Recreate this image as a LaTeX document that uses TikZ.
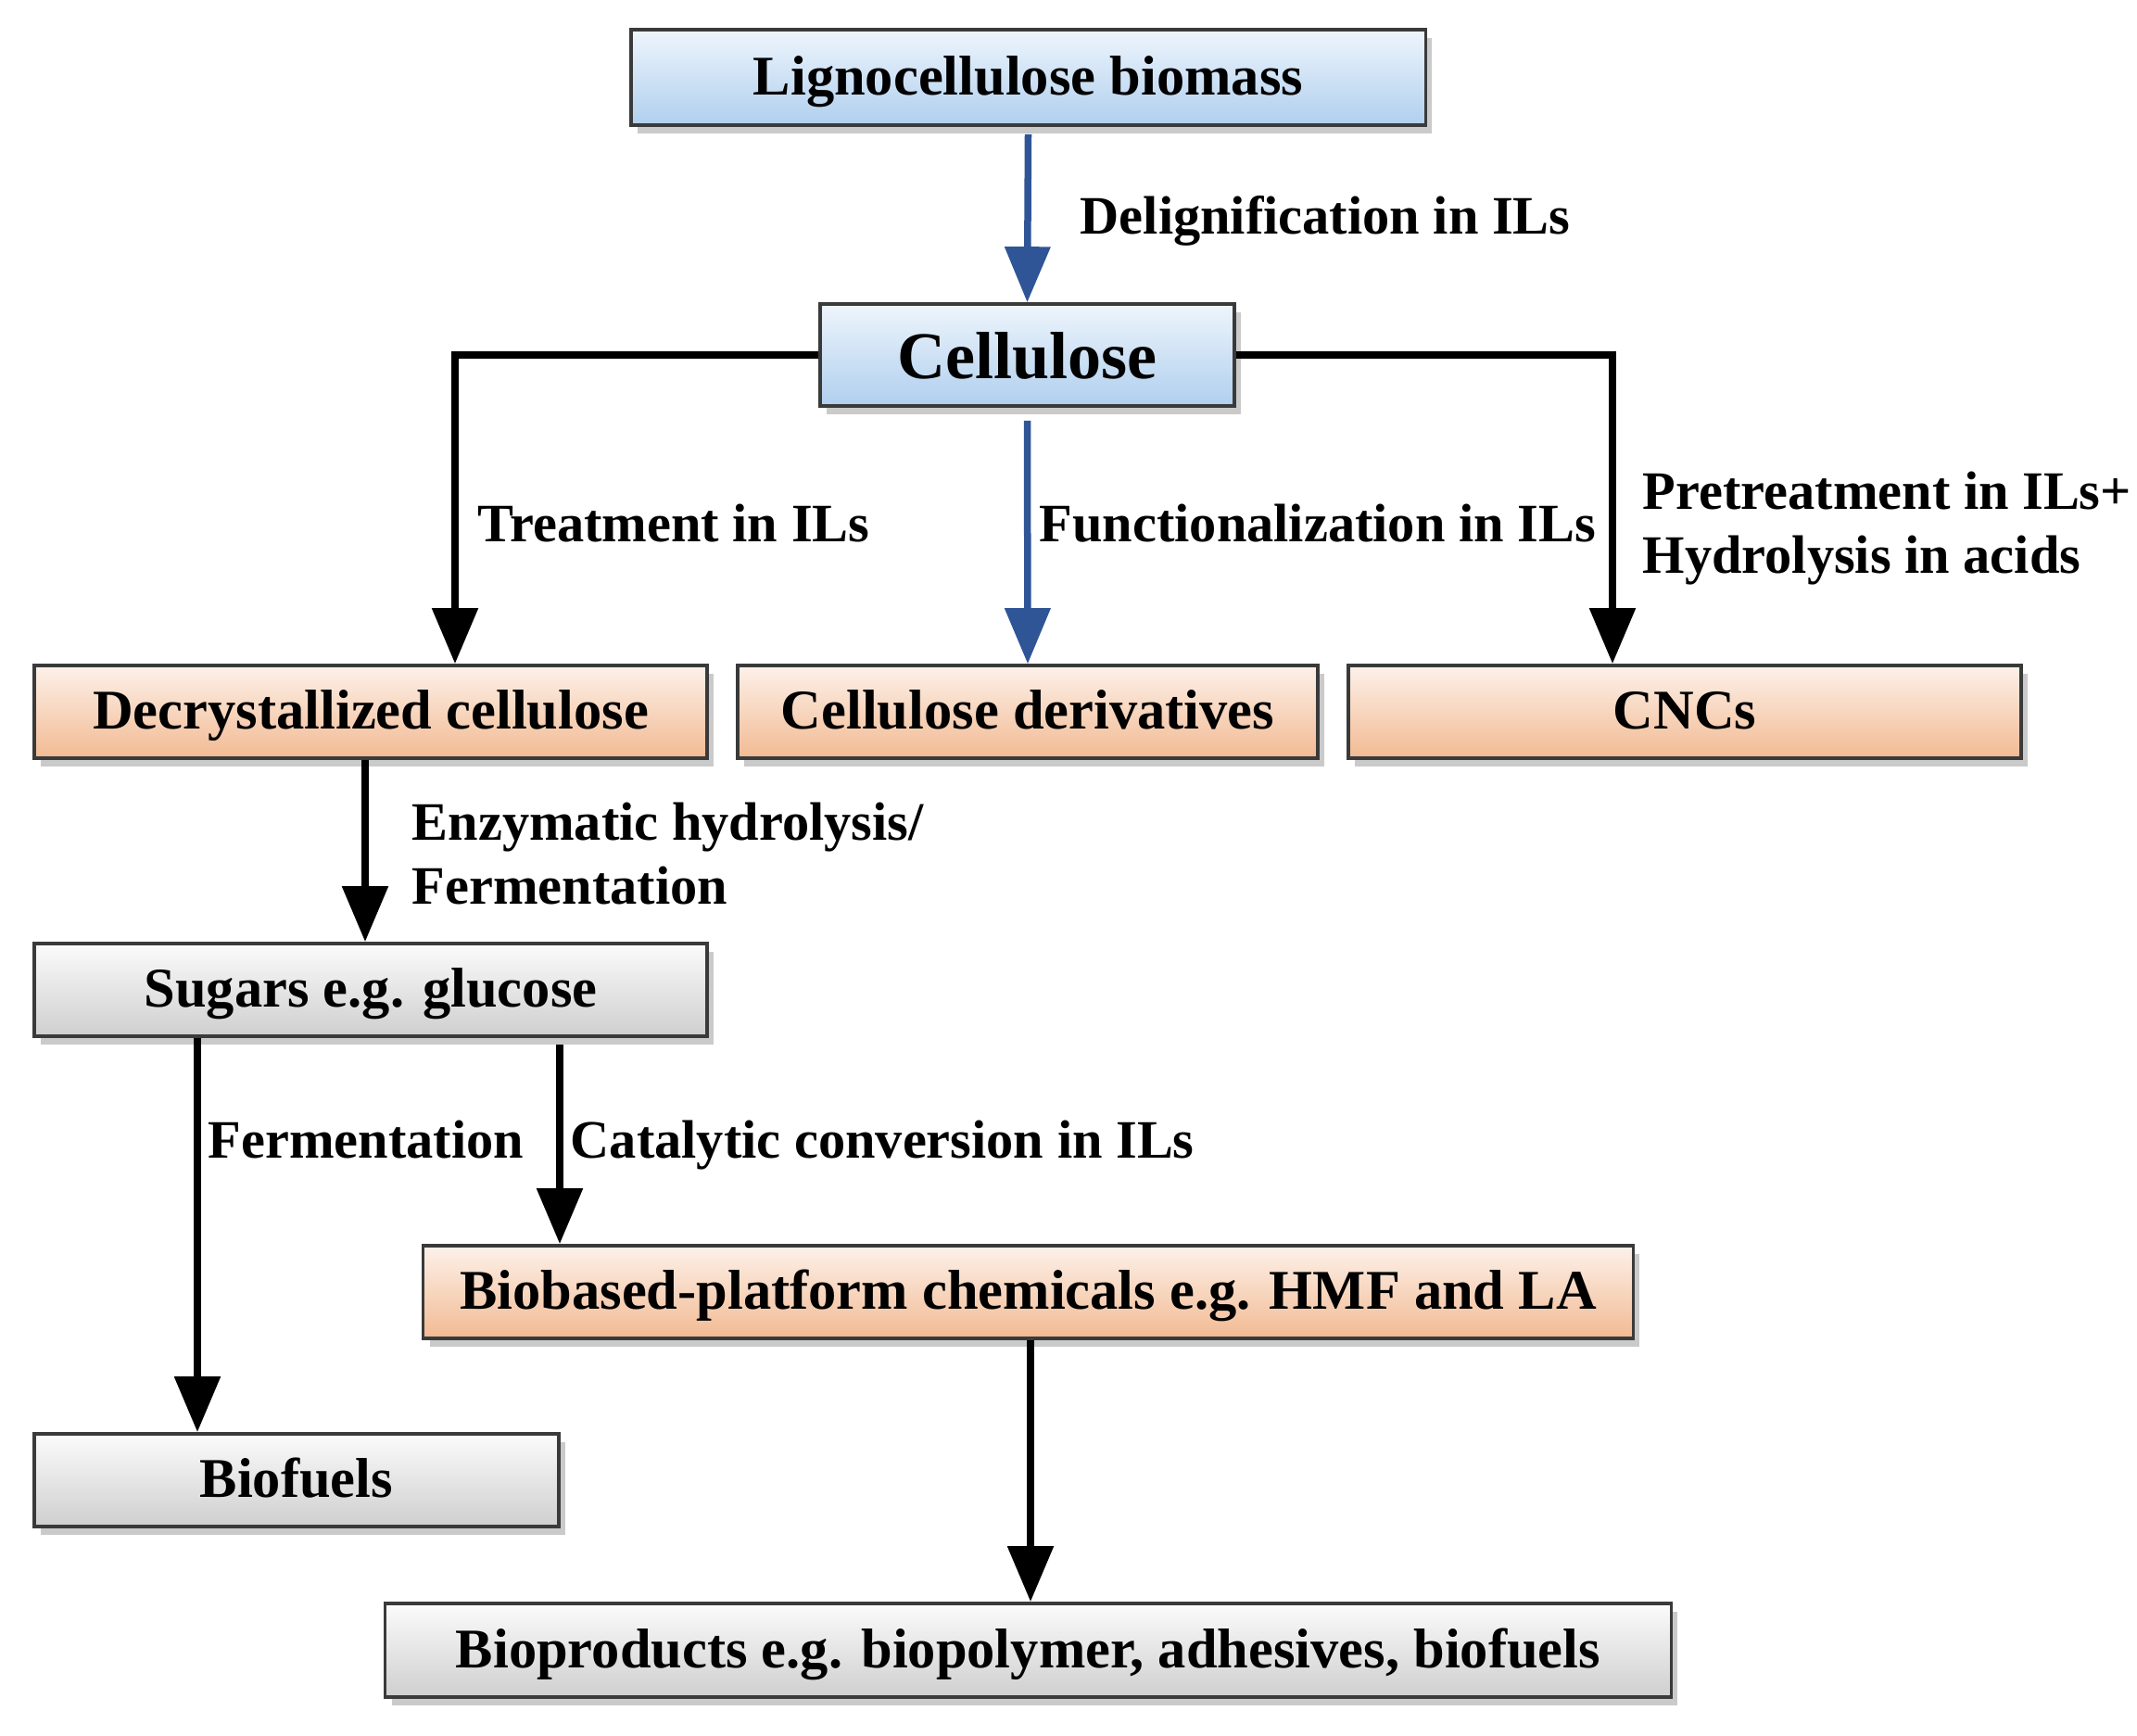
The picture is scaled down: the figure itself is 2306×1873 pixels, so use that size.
\documentclass[tikz,border=0pt]{standalone}
\usepackage{fontspec}
\setmainfont{Liberation Serif}
\usetikzlibrary{arrows.meta,shadows,calc}
\definecolor{bluetop}{HTML}{EEF5FC}
\definecolor{bluebot}{HTML}{B0CFEE}
\definecolor{ortop}{HTML}{FDF1EA}
\definecolor{orbot}{HTML}{F2BA92}
\definecolor{grtop}{HTML}{FBFBFB}
\definecolor{grbot}{HTML}{CFCFCF}
\definecolor{boxline}{HTML}{3A3A3A}
\definecolor{arrblue}{HTML}{2F5597}
\tikzset{
  box/.style={draw=boxline, line width=0.035cm, inner sep=0pt, minimum height=1cm,
    text height=11.7pt, text depth=1.1pt,
    font=\fontsize{17.2}{20}\selectfont\bfseries,
    drop shadow={shadow xshift=0.07cm, shadow yshift=-0.09cm, opacity=0.35, fill=black!60}},
  bluebox/.style={box, top color=bluetop, bottom color=bluebot},
  orbox/.style={box, top color=ortop, bottom color=orbot},
  grbox/.style={box, top color=grtop, bottom color=grbot},
  arr/.style={line width=0.085cm, -{Triangle[width=0.48cm,length=0.6cm]}},
  barr/.style={arr, line width=0.075cm, draw=arrblue, -{Triangle[width=0.48cm,length=0.6cm,fill=arrblue]}},
  lab/.style={anchor=base west, inner sep=0pt, font=\fontsize{16.6}{19.4}\selectfont\bfseries},
  mlab/.style={anchor=west, inner sep=0pt, align=left, font=\fontsize{16.6}{19.4}\selectfont\bfseries}
}
\begin{document}
\begin{tikzpicture}[x=0.01cm,y=-0.01cm]
\useasboundingbox (0,0) rectangle (2306,1873);
% boxes
\node[bluebox, minimum width=8.57cm, minimum height=1.03cm] (lig) at (1109.5,83.5) {Lignocellulose biomass};
\node[bluebox, minimum width=4.47cm, minimum height=1.10cm, text height=14.4pt, text depth=0pt, font=\fontsize{20.5}{24}\selectfont\bfseries] (cel) at (1108.5,383) {Cellulose};
\node[orbox, minimum width=7.26cm] (dec) at (400,768) {Decrystallized cellulose};
\node[orbox, minimum width=6.26cm] (der) at (1109,768) {Cellulose derivatives};
\node[orbox, minimum width=7.26cm] (cnc) at (1818,768) {CNCs};
\node[grbox, minimum width=7.26cm] (sug) at (400,1068) {Sugars e.g. glucose};
\node[orbox, minimum width=13.05cm] (bio) at (1109.5,1394) {Biobased-platform chemicals e.g. HMF and LA};
\node[grbox, minimum width=5.66cm] (fuel) at (320,1597) {Biofuels};
\node[grbox, minimum width=13.87cm, minimum height=1.01cm] (prod) at (1109.5,1780.5) {Bioproducts e.g. biopolymer, adhesives, biofuels};
% guide coordinates
\coordinate (xl) at (491,0);
\coordinate (xr) at (1740,0);
\coordinate (xd) at (394,0);
\coordinate (xf) at (213,0);
\coordinate (xc) at (604,0);
% connectors
\draw[barr] ([yshift=-0.08cm]lig.south) -- (cel.north);
\draw[arr] (cel.west) -| (dec.north -| xl);
\draw[arr] (cel.east) -| (cnc.north -| xr);
\draw[barr] ([yshift=-0.14cm]cel.south) -- (der.north);
\draw[arr] (dec.south -| xd) -- (sug.north -| xd);
\draw[arr] (sug.south -| xf) -- (fuel.north -| xf);
\draw[arr] ([yshift=-0.07cm]sug.south -| xc) -- (bio.north -| xc);
\draw[arr] ([xshift=0.025cm]bio.south) -- ([xshift=0.025cm]prod.north);
% labels
\node[lab] (l1) at (1165,253) {Delignification in ILs};
\node[lab] (l2) at (515,584) {Treatment in ILs};
\node[lab] (l3) at (1121,584) {Functionalization in ILs};
\node[mlab] (l4) at (1772,570) {Pretreatment in ILs+\\Hydrolysis in acids};
\node[mlab] (l5) at (444,921) {Enzymatic hydrolysis/\\Fermentation};
\node[lab] (l6) at (224,1249) {Fermentation};
\node[lab] (l7) at (615,1249) {Catalytic conversion in ILs};
\end{tikzpicture}
\end{document}
